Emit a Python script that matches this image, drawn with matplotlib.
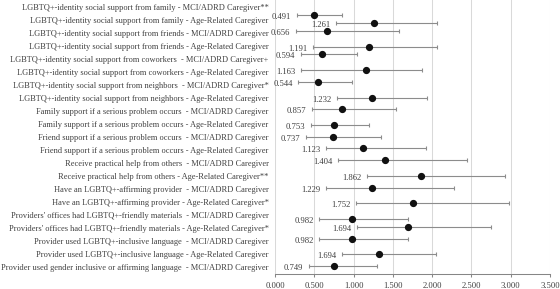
import matplotlib
matplotlib.use("Agg")
import matplotlib.pyplot as plt
from matplotlib.ticker import FormatStrFormatter

categories = [
    "LGBTQ+-identity social support from family - MCI/ADRD Caregiver**",
    "LGBTQ+-identity social support from family - Age-Related Caregiver",
    "LGBTQ+-identity social support from friends - MCI/ADRD Caregiver",
    "LGBTQ+-identity social support from friends - Age-Related Caregiver",
    "LGBTQ+-identity social support from coworkers  - MCI/ADRD Caregiver+",
    "LGBTQ+-identity social support from coworkers - Age-Related Caregiver",
    "LGBTQ+-identity social support from neighbors  - MCI/ADRD Caregiver*",
    "LGBTQ+-identity social support from neighbors - Age-Related Caregiver",
    "Family support if a serious problem occurs  - MCI/ADRD Caregiver",
    "Family support if a serious problem occurs - Age-Related Caregiver",
    "Friend support if a serious problem occurs  - MCI/ADRD Caregiver",
    "Friend support if a serious problem occurs - Age-Related Caregiver",
    "Receive practical help from others  - MCI/ADRD Caregiver",
    "Receive practical help from others - Age-Related Caregiver**",
    "Have an LGBTQ+-affirming provider  - MCI/ADRD Caregiver",
    "Have an LGBTQ+-affirming provider - Age-Related Caregiver*",
    "Providers' offices had LGBTQ+-friendly materials  - MCI/ADRD Caregiver",
    "Providers' offices had LGBTQ+-friendly materials - Age-Related Caregiver*",
    "Provider used LGBTQ+-inclusive language  - MCI/ADRD Caregiver",
    "Provider used LGBTQ+-inclusive language - Age-Related Caregiver",
    "Provider used gender inclusive or affirming language  - MCI/ADRD Caregiver",
]

odds_ratio = [0.491, 1.261, 0.656, 1.191, 0.594, 1.163, 0.544, 1.232, 0.857, 0.753,
              0.737, 1.123, 1.404, 1.862, 1.229, 1.752, 0.982, 1.694, 0.982, 1.324, 0.749]
ci_low = [0.276, 0.772, 0.267, 0.488, 0.327, 0.327, 0.297, 0.785, 0.467, 0.458,
          0.390, 0.649, 0.806, 1.167, 0.649, 1.031, 0.564, 1.039, 0.564, 0.857, 0.429]
ci_high = [0.849, 2.058, 1.574, 2.058, 1.039, 1.875, 0.976, 1.930, 1.540, 1.201,
           1.349, 1.922, 2.440, 2.931, 2.278, 2.982, 1.689, 2.749, 1.689, 2.049, 1.294]
value_labels = ["0.491", "1.261", "0.656", "1.191", "0.594", "1.163", "0.544", "1.232",
                "0.857", "0.753", "0.737", "1.123", "1.404", "1.862", "1.229", "1.752",
                "0.982", "1.694", "0.982", "1.694", "0.749"]
point_rows = [0.617, 1.234, 1.827, 3.038, 3.624, 4.834, 5.736, 6.970, 7.864, 9.075,
              9.977, 10.871, 11.796, 13.007, 13.909, 15.112, 16.322, 16.916, 17.841,
              19.044, 19.946]
xticks = [0.0, 0.5, 1.0, 1.5, 2.0, 2.5, 3.0, 3.5]

plt.rcParams['font.family'] = ['Liberation Serif', 'DejaVu Serif']

fig = plt.figure(figsize=(5.6, 2.89), dpi=100)
ax = fig.add_axes([275/560, 15/289, 275/560, 274/289])

ax.set_xlim(0, 3.5)
ax.set_ylim(20.563, -0.563)
ax.set_xticks(xticks)
ax.xaxis.set_major_formatter(FormatStrFormatter('%.3f'))
ax.set_yticks(range(len(categories)))
ax.set_yticklabels(categories)

ax.grid(axis='x', color='#d9d9d9', linewidth=0.75)
ax.set_axisbelow(True)
for s in ['left', 'right', 'top']:
    ax.spines[s].set_visible(False)
ax.spines['bottom'].set_color('#868686')
ax.spines['bottom'].set_linewidth(0.75)
ax.tick_params(axis='y', length=0, pad=4.5, labelsize=6.0, labelcolor='#404040')
ax.tick_params(axis='x', length=2.5, width=0.75, color='#868686', pad=3,
               labelsize=6.2, labelcolor='#404040')

err_lo = [o - l for o, l in zip(odds_ratio, ci_low)]
err_hi = [h - o for o, h in zip(odds_ratio, ci_high)]
ax.errorbar(odds_ratio, point_rows, xerr=[err_lo, err_hi], fmt='none',
            ecolor='#8c8c8c', elinewidth=0.8, capsize=1.6, capthick=0.8, zorder=2)
ax.plot(odds_ratio, point_rows, 'o', color='#111111', markersize=4.2, zorder=3,
        linestyle='none')

for lo, y, t in zip(ci_low, point_rows, value_labels):
    ax.annotate(t, (lo, y), xytext=(-4, -1.5), textcoords='offset points',
                ha='right', va='center', fontsize=6.2, color='#404040')

fig.savefig('out.png', dpi=100)
